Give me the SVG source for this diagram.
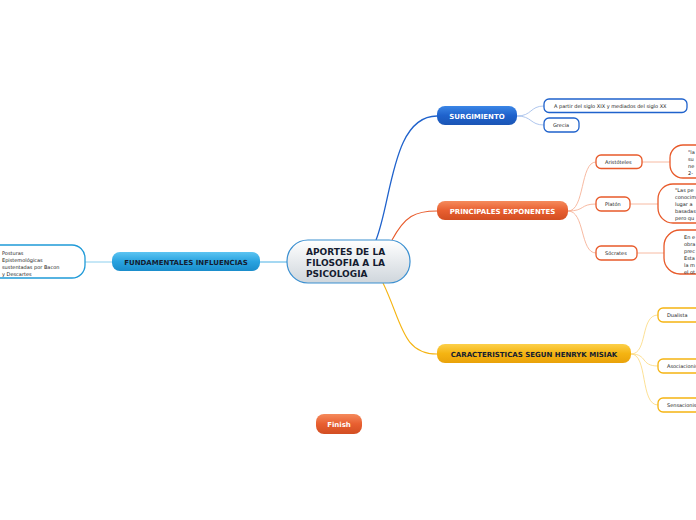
<svg xmlns="http://www.w3.org/2000/svg" width="696" height="520" viewBox="0 0 696 520">
<defs>
<linearGradient id="gCenter" x1="0" y1="0" x2="0" y2="1"><stop offset="0" stop-color="#ffffff"/><stop offset="1" stop-color="#cfd6dc"/></linearGradient>
<linearGradient id="gBlue" x1="0" y1="0" x2="0" y2="1"><stop offset="0" stop-color="#3b86e6"/><stop offset="0.5" stop-color="#1f62cc"/><stop offset="1" stop-color="#1a55b5"/></linearGradient>
<linearGradient id="gOrange" x1="0" y1="0" x2="0" y2="1"><stop offset="0" stop-color="#f58a5c"/><stop offset="0.5" stop-color="#e85f30"/><stop offset="1" stop-color="#d24e22"/></linearGradient>
<linearGradient id="gYellow" x1="0" y1="0" x2="0" y2="1"><stop offset="0" stop-color="#fcd04a"/><stop offset="0.5" stop-color="#f5b412"/><stop offset="1" stop-color="#e9a20a"/></linearGradient>
<linearGradient id="gLight" x1="0" y1="0" x2="0" y2="1"><stop offset="0" stop-color="#5cc4f2"/><stop offset="0.5" stop-color="#29a3e0"/><stop offset="1" stop-color="#1a8dcb"/></linearGradient>
</defs>
<style>
text{font-family:"DejaVu Sans","Liberation Sans",sans-serif;}
.main{font-size:7px;font-weight:bold;text-anchor:middle;}
.w{fill:#ffffff;}
.d{fill:#141c30;}
.sm{font-size:5px;fill:#222222;}
.cb{fill:#ffffff;stroke:#1f62cc;stroke-width:1.3;}
.co{fill:#ffffff;stroke:#e85a2a;stroke-width:1.3;}
.cy{fill:#ffffff;stroke:#f5b412;stroke-width:1.3;}
.cl{fill:#ffffff;stroke:#1f9ad8;stroke-width:1.3;}
.ln{fill:none;}
</style>
<g id="connectors">
<path class="ln" d="M376,240 C392,200 392,116 437,116" stroke="#1f62cc" stroke-width="1.3"/>
<path class="ln" d="M392,240 C405,216 415,211 437,211" stroke="#e85a2a" stroke-width="1.1"/>
<path class="ln" d="M383,283 C402,322 402,354 437,354" stroke="#f5b412" stroke-width="1.1"/>
<path class="ln" d="M287,262 L260,262" stroke="#5cb8e8" stroke-width="1.1"/>
<path class="ln" d="M112,262 L85,262" stroke="#8ccfee" stroke-width="1"/>
<path class="ln" d="M517,116 C532,116 530,106 544,106" stroke="#9ab8e8" stroke-width="0.8"/>
<path class="ln" d="M517,116 C532,116 530,125 544,125" stroke="#9ab8e8" stroke-width="0.8"/>
<path class="ln" d="M568,211 C585,211 580,162 596,162" stroke="#f5a88a" stroke-width="0.8"/>
<path class="ln" d="M568,211 C585,211 580,204 596,204" stroke="#f5a88a" stroke-width="0.8"/>
<path class="ln" d="M568,211 C585,211 580,253 596,253" stroke="#f5a88a" stroke-width="0.8"/>
<path class="ln" d="M642,162 L670,162" stroke="#f5a88a" stroke-width="0.8"/>
<path class="ln" d="M630,204 L658,204" stroke="#f5a88a" stroke-width="0.8"/>
<path class="ln" d="M637,253 L664,253" stroke="#f5a88a" stroke-width="0.8"/>
<path class="ln" d="M631,354 C648,354 640,315 658,315" stroke="#fbd87a" stroke-width="0.8"/>
<path class="ln" d="M631,354 C648,354 640,366 658,366" stroke="#fbd87a" stroke-width="0.8"/>
<path class="ln" d="M631,354 C648,354 640,405 658,405" stroke="#fbd87a" stroke-width="0.8"/>
</g>
<g id="central">
<rect x="287" y="240" width="123" height="43" rx="21" fill="url(#gCenter)" stroke="#3a8fd0" stroke-width="1.2"/>
<text x="306" y="255" font-size="9" font-weight="bold" class="d">APORTES DE LA</text>
<text x="306" y="266" font-size="9" font-weight="bold" class="d">FILOSOFIA A LA</text>
<text x="306" y="277" font-size="9" font-weight="bold" class="d">PSICOLOGIA</text>
</g>
<g id="surgimiento">
<rect x="437" y="106" width="80" height="19" rx="8" fill="url(#gBlue)"/>
<text x="477" y="118.5" class="main w">SURGIMIENTO</text>
</g>
<g id="surg-1">
<rect x="544" y="99" width="143" height="13.5" rx="5" class="cb"/>
<text x="554" y="107.7" class="sm">A partir del siglo XIX y mediados del siglo XX</text>
</g>
<g id="surg-2">
<rect x="544" y="118" width="35" height="14" rx="5" class="cb"/>
<text x="553" y="126.8" class="sm">Grecia</text>
</g>
<g id="principales">
<rect x="437" y="201" width="131" height="19" rx="8" fill="url(#gOrange)"/>
<text x="502.5" y="213.5" class="main w">PRINCIPALES EXPONENTES</text>
</g>
<g id="aristoteles">
<rect x="596" y="155" width="46" height="13.5" rx="5" class="co"/>
<text x="605" y="163.8" class="sm">Aristóteles</text>
</g>
<g id="aristoteles-desc">
<rect x="670" y="145" width="60" height="33" rx="13" class="co"/>
<text x="688" y="154" class="sm">"la</text>
<text x="688" y="161" class="sm">su</text>
<text x="688" y="168" class="sm">ne</text>
<text x="688" y="175" class="sm">2-</text>
</g>
<g id="platon">
<rect x="596" y="197" width="34" height="14" rx="5" class="co"/>
<text x="605" y="206" class="sm">Platón</text>
</g>
<g id="platon-desc">
<rect x="658" y="184" width="70" height="39" rx="15" class="co"/>
<text x="675" y="192" class="sm">"Las pe</text>
<text x="675" y="199" class="sm">conocim</text>
<text x="675" y="206" class="sm">lugar a</text>
<text x="675" y="213" class="sm">basadas</text>
<text x="675" y="220" class="sm">pero qu</text>
</g>
<g id="socrates">
<rect x="596" y="246" width="41" height="14" rx="5" class="co"/>
<text x="605" y="255" class="sm">Sócrates</text>
</g>
<g id="socrates-desc">
<rect x="664" y="230" width="66" height="44" rx="16" class="co"/>
<text x="684" y="239" class="sm">En e</text>
<text x="684" y="246" class="sm">obra</text>
<text x="684" y="253" class="sm">prec</text>
<text x="684" y="260" class="sm">Esta</text>
<text x="684" y="267" class="sm">la m</text>
<text x="684" y="274" class="sm">el ot</text>
</g>
<g id="caracteristicas">
<rect x="437" y="344" width="194" height="19" rx="8" fill="url(#gYellow)"/>
<text x="534" y="356.5" class="main d">CARACTERISTICAS SEGUN HENRYK MISIAK</text>
</g>
<g id="dualista">
<rect x="658" y="308" width="60" height="14" rx="5" class="cy"/>
<text x="667" y="317" class="sm">Dualista</text>
</g>
<g id="asociacionismo">
<rect x="658" y="359" width="70" height="14" rx="5" class="cy"/>
<text x="667" y="368" class="sm">Asociacionismo</text>
</g>
<g id="sensacionismo">
<rect x="658" y="398" width="70" height="14" rx="5" class="cy"/>
<text x="667" y="407" class="sm">Sensacionismo</text>
</g>
<g id="fundamentales">
<rect x="112" y="252" width="148" height="19" rx="8" fill="url(#gLight)"/>
<text x="186" y="264.5" class="main d">FUNDAMENTALES INFLUENCIAS</text>
</g>
<g id="posturas">
<rect x="-20" y="245" width="105" height="33" rx="13" class="cl"/>
<text x="2" y="254.5" class="sm">Posturas</text>
<text x="2" y="261.5" class="sm">Epistemológicas</text>
<text x="2" y="268.5" class="sm">sustentadas por Bacon</text>
<text x="2" y="275.5" class="sm">y Descartes</text>
</g>
<g id="finish">
<rect x="316" y="414" width="46" height="20" rx="8" fill="url(#gOrange)"/>
<text x="339" y="426.5" class="main w">Finish</text>
</g>
</svg>
